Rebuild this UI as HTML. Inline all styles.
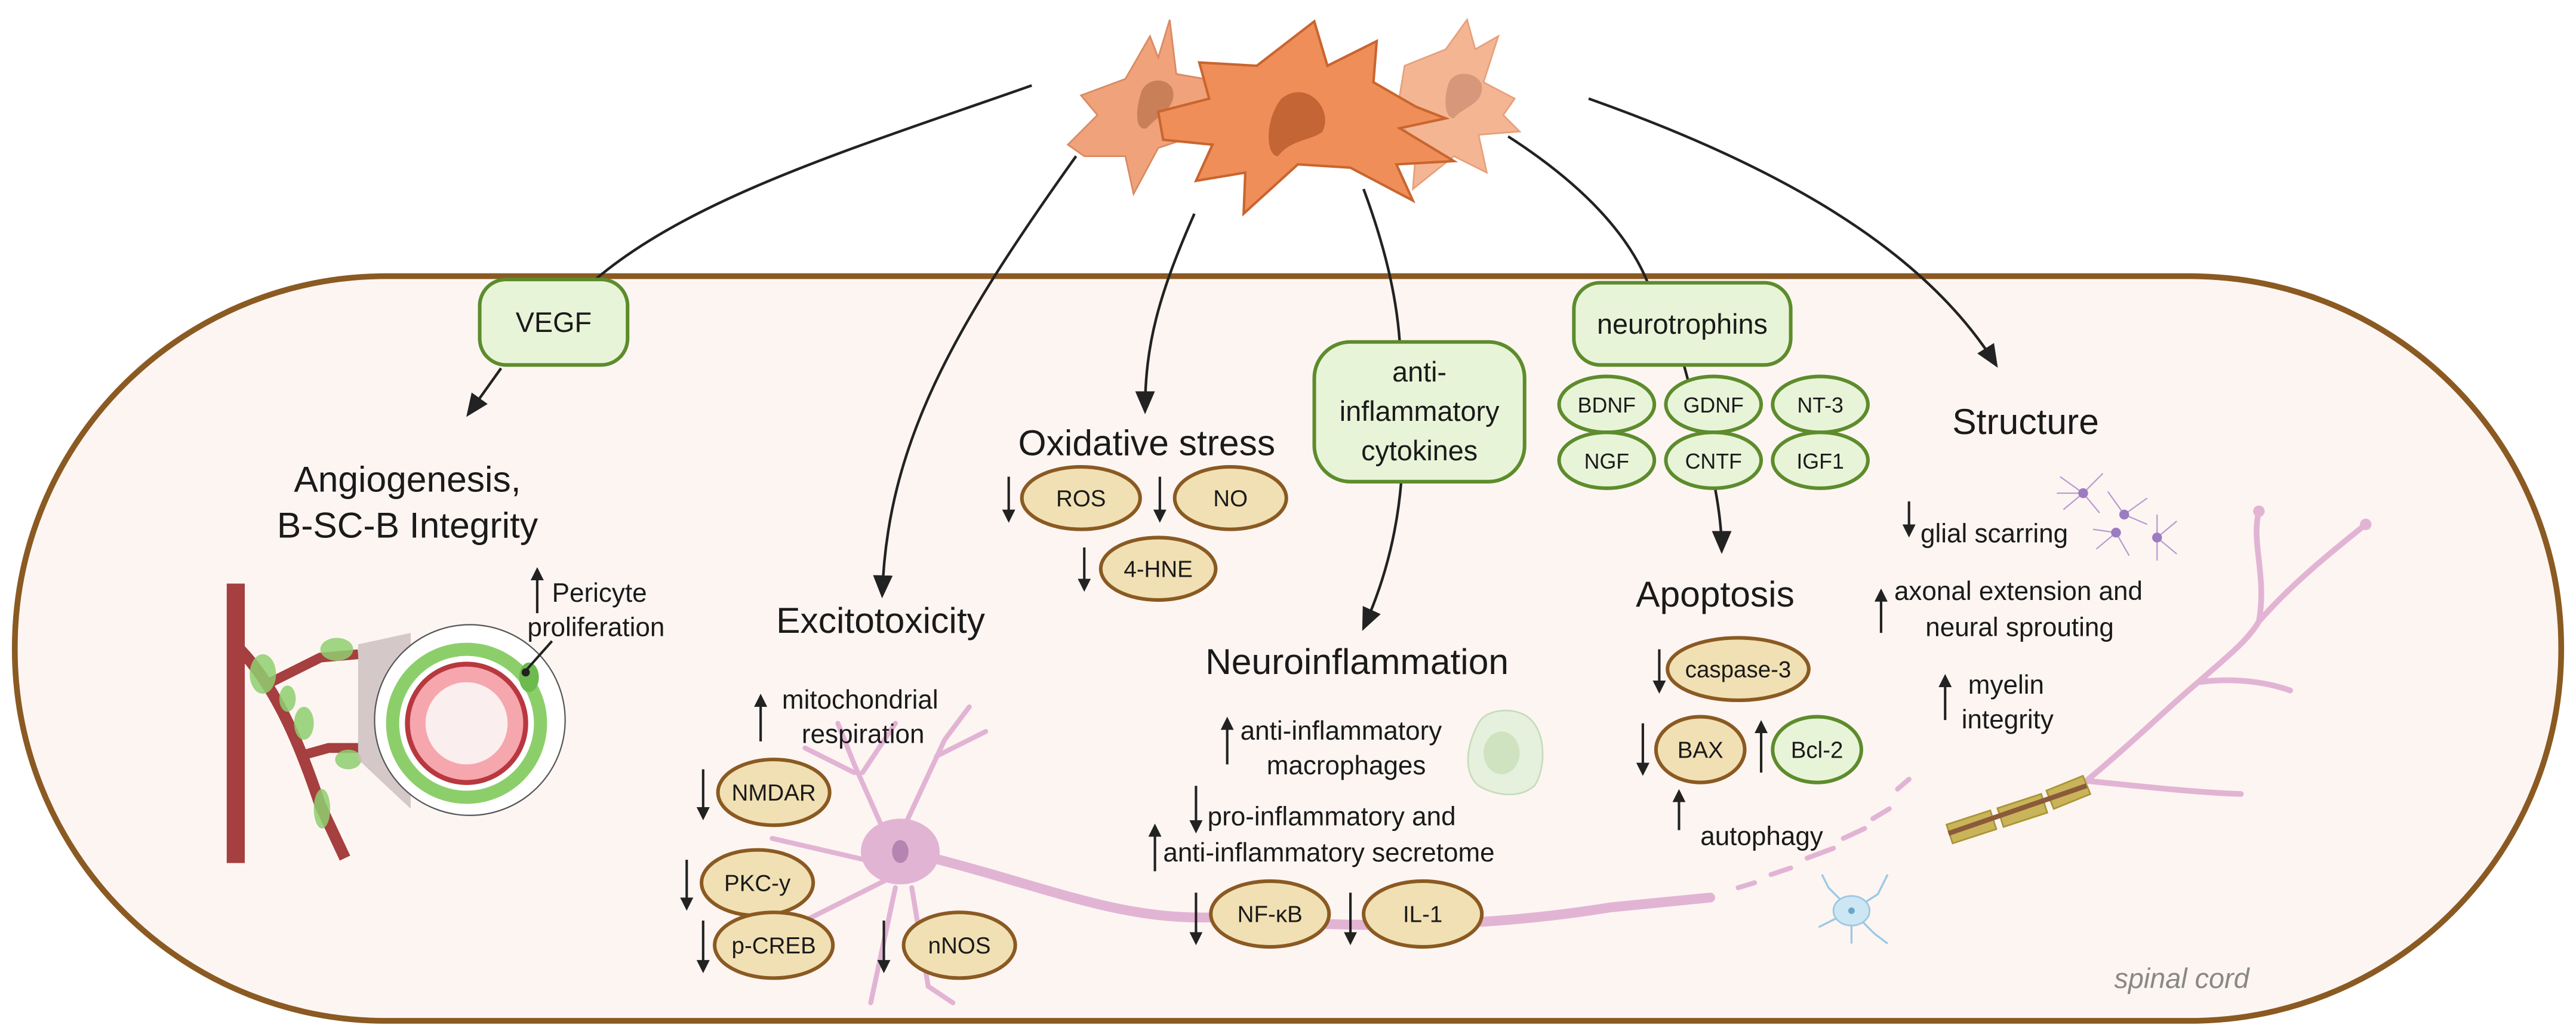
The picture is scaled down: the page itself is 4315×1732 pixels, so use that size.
<!DOCTYPE html>
<html><head><meta charset="utf-8"><style>
html,body{margin:0;padding:0;background:#fff}
svg{display:block}
text{font-family:"Liberation Sans",sans-serif;fill:#1a1a1a}
</style></head><body>
<svg width="4315" height="1732" viewBox="0 0 1568 629" preserveAspectRatio="none" xmlns="http://www.w3.org/2000/svg">
<defs>
<marker id="ah" markerWidth="8" markerHeight="8" refX="6" refY="4" orient="auto" markerUnits="userSpaceOnUse"><path d="M0,0 L8,4 L0,8 Z" fill="#222"/></marker>
<marker id="bh" markerWidth="14" markerHeight="14" refX="12" refY="7" orient="auto" markerUnits="userSpaceOnUse"><path d="M0,1 L14,7 L0,13 Z" fill="#222"/></marker>
</defs>
<rect width="1568" height="629" fill="#fff"/>
<rect x="9" y="168" width="1550" height="453" rx="226" ry="226" fill="#fdf5f2" stroke="#8a5a22" stroke-width="3.5"/>

<g fill="none" stroke="#222" stroke-width="1.6">
<path d="M628,52 C520,90 420,120 360,172"/>
<path d="M305,224 L285,252" marker-end="url(#bh)"/>
<path d="M655,95 C580,200 540,270 537,362" marker-end="url(#bh)"/>
<path d="M727,130 C705,180 697,210 697,250" marker-end="url(#bh)"/>
<path d="M830,115 C843,150 850,180 852,208"/>
<path d="M853,292 C850,330 840,360 830,382" marker-end="url(#bh)"/>
<path d="M918,83 C960,110 990,140 1003,172"/>
<path d="M1025,222 C1035,260 1048,300 1048,335" marker-end="url(#bh)"/>
<path d="M967,60 C1080,100 1170,150 1215,222" marker-end="url(#bh)"/>
</g>

<path d="M650,88 L668,70 L658,58 L685,48 L700,22 L705,35 L712,12 L716,45 L745,50 L720,85 L705,90 L690,118 L685,95 L660,95 Z" fill="#f0a27a" stroke="#d98a63" stroke-width="1"/>
<path d="M695,55 C690,70 692,80 698,78 C705,70 716,66 714,55 C712,48 700,46 695,55Z" fill="#c98058"/>
<path d="M855,40 L880,30 L893,12 L898,30 L912,22 L903,50 L922,60 L915,70 L925,80 L900,82 L905,105 L885,95 L860,115 L862,90 L850,70 Z" fill="#f4b592" stroke="#e7a07b" stroke-width="1"/>
<path d="M882,50 C878,62 880,72 885,72 C890,65 903,64 902,52 C900,44 886,42 882,50Z" fill="#d6977a"/>
<path d="M705,68 L736,60 L730,38 L765,40 L800,13 L808,40 L838,25 L836,50 L862,65 L880,72 L852,78 L885,98 L850,100 L860,122 L822,102 L790,100 L757,130 L758,105 L728,110 L738,88 L708,85 Z" fill="#ef8e58" stroke="#c9652f" stroke-width="1.5"/>
<path d="M780,60 C770,72 770,95 778,95 C785,85 800,85 805,80 C812,66 795,48 780,60Z" fill="#c36534"/>

<g fill="#e8f4d8" stroke="#5d8c2c" stroke-width="2.2">
<rect x="292" y="170" width="90" height="52" rx="16"/>
<rect x="958" y="172" width="132" height="50" rx="16"/>
<rect x="800" y="208" width="128" height="85" rx="22"/>
<ellipse cx="978" cy="246" rx="29" ry="17"/>
<ellipse cx="1043" cy="246" rx="29" ry="17"/>
<ellipse cx="1108" cy="246" rx="29" ry="17"/>
<ellipse cx="978" cy="280" rx="29" ry="17"/>
<ellipse cx="1043" cy="280" rx="29" ry="17"/>
<ellipse cx="1108" cy="280" rx="29" ry="17"/>
<ellipse cx="1106" cy="456" rx="27" ry="20"/>
</g>
<g font-size="17" text-anchor="middle">
<text x="337" y="202">VEGF</text>
<text x="1024" y="203">neurotrophins</text>
<text x="864" y="232">anti-</text>
<text x="864" y="256">inflammatory</text>
<text x="864" y="280">cytokines</text>
</g>
<g font-size="13" text-anchor="middle">
<text x="978" y="251">BDNF</text><text x="1043" y="251">GDNF</text><text x="1108" y="251">NT-3</text>
<text x="978" y="285">NGF</text><text x="1043" y="285">CNTF</text><text x="1108" y="285">IGF1</text>
<text x="1106" y="461" font-size="14">Bcl-2</text>
</g>

<g font-size="22" text-anchor="middle">
<text x="248" y="299">Angiogenesis,</text>
<text x="248" y="327">B-SC-B Integrity</text>
<text x="698" y="277">Oxidative stress</text>
<text x="536" y="385">Excitotoxicity</text>
<text x="826" y="410">Neuroinflammation</text>
<text x="1044" y="369">Apoptosis</text>
<text x="1233" y="264">Structure</text>
</g>

<!-- neuron -->
<g stroke="#e2b4d4" fill="none" stroke-linecap="round">
<path d="M560,520 C640,540 680,560 740,558 C820,565 900,565 980,552 L1041,546" stroke-width="6"/>
<path d="M540,510 L520,465 L510,440 M525,470 L545,440 M548,508 L575,450 L590,430 M570,460 L600,445 M535,525 L470,510 M540,535 L480,565 L455,585 M545,540 L530,610 M555,540 L565,600 L580,610 M520,470 L490,455" stroke-width="3"/>
<path d="M1270,475 C1300,450 1320,430 1338,415 C1355,400 1368,390 1375,378 C1380,350 1370,330 1375,311 M1375,378 C1395,355 1420,335 1440,319 M1338,415 C1360,412 1380,415 1394,420 M1270,475 C1300,478 1335,482 1364,483" stroke-width="3.5"/>
</g>
<circle cx="1375" cy="311" r="3.5" fill="#e2b4d4"/><circle cx="1440" cy="319" r="3.5" fill="#e2b4d4"/>
<ellipse cx="548" cy="518" rx="24" ry="20" fill="#e2b4d4"/>
<ellipse cx="548" cy="518" rx="5" ry="7" fill="#b684b0"/>
<g stroke="#e2b4d4" stroke-width="3" stroke-linecap="round">
<line x1="1058" y1="540" x2="1068" y2="537"/><line x1="1078" y1="532" x2="1090" y2="528"/><line x1="1100" y1="522" x2="1116" y2="516"/><line x1="1122" y1="510" x2="1135" y2="504"/><line x1="1140" y1="498" x2="1150" y2="492"/><line x1="1155" y1="480" x2="1162" y2="474"/>
</g>
<g fill="#c9b45a" stroke="#a89535" stroke-width="1">
<rect x="1186" y="497" width="28" height="12" transform="rotate(-18 1200 503)"/>
<rect x="1217" y="487" width="28" height="12" transform="rotate(-18 1231 493)"/>
<rect x="1247" y="476" width="24" height="12" transform="rotate(-22 1259 482)"/>
</g>
<g stroke="#8a5a3a" stroke-width="3"><line x1="1186" y1="507" x2="1270" y2="478"/></g>
<!-- glial cells -->
<g stroke="#b79ad0" stroke-width="0.8" fill="none">
<path d="M1268,300 l-14,-10 M1268,300 l12,-12 M1268,300 l-12,10 M1268,300 l10,12 M1268,300 l-16,0 M1293,313 l-10,-14 M1293,313 l14,-10 M1293,313 l14,6 M1288,324 l-12,10 M1288,324 l8,14 M1288,324 l-14,-2 M1313,327 l12,-10 M1313,327 l12,10 M1313,327 l0,14 M1313,327 l0,-14"/>
</g>
<circle cx="1268" cy="300" r="3" fill="#9c7cc0"/><circle cx="1293" cy="313" r="3" fill="#9c7cc0"/><circle cx="1288" cy="324" r="3" fill="#9c7cc0"/><circle cx="1313" cy="327" r="3" fill="#9c7cc0"/>
<g stroke="#9cc8e2" stroke-width="1.2" fill="none"><path d="M1127,554 l-14,-14 l-4,-8 M1127,554 l16,-10 l6,-12 M1127,554 l-20,10 M1127,554 l14,14 l8,6 M1127,554 l0,20"/></g>
<ellipse cx="1127" cy="554" rx="11" ry="9" fill="#cde6f3" stroke="#9cc8e2"/>
<circle cx="1127" cy="554" r="2" fill="#6aa7c7"/>
<!-- macrophage -->
<path d="M900,440 C905,430 925,430 932,438 C942,448 940,470 934,478 C925,486 910,484 900,478 C890,470 893,452 900,440Z" fill="#e6f1dd" stroke="#c8dcbc"/>
<ellipse cx="914" cy="458" rx="11" ry="13" fill="#cfe3c1"/>

<!-- vessel -->
<rect x="138" y="355" width="11" height="170" fill="#a63f3f"/>
<path d="M146,395 C170,420 185,460 195,490 L210,522" stroke="#a63f3f" stroke-width="7" fill="none"/>
<path d="M165,415 L195,400 L218,398 M182,460 L200,455 L218,455" stroke="#a63f3f" stroke-width="6" fill="none"/>
<g fill="#8fcf70" opacity="0.85"><ellipse cx="160" cy="410" rx="8" ry="12"/><ellipse cx="205" cy="395" rx="10" ry="7"/><ellipse cx="185" cy="440" rx="6" ry="10"/><ellipse cx="212" cy="462" rx="8" ry="6"/><ellipse cx="196" cy="492" rx="5" ry="12"/><ellipse cx="175" cy="425" rx="5" ry="8"/></g>
<path d="M218,392 L250,385 L250,492 L218,462 Z" fill="#c9bdbd" opacity="0.8"/>
<circle cx="286" cy="438" r="58" fill="#fff" stroke="#555" stroke-width="0.8"/>
<circle cx="284" cy="440" r="45" fill="none" stroke="#8ccf6a" stroke-width="8"/>
<circle cx="284" cy="440" r="36" fill="#f6a6ad" stroke="#b8383f" stroke-width="3"/>
<circle cx="284" cy="440" r="25" fill="#fbeeee"/>
<ellipse cx="322" cy="412" rx="6" ry="9" fill="#6dbb4f"/>
<line x1="320" y1="408" x2="336" y2="390" stroke="#222" stroke-width="1.5"/><circle cx="320" cy="409" r="2.5" fill="#222"/>

<g fill="#f1e0b3" stroke="#8a5a22" stroke-width="2.2">
<ellipse cx="658" cy="303" rx="36" ry="19"/><ellipse cx="749" cy="303" rx="34" ry="19"/><ellipse cx="705" cy="346" rx="35" ry="19"/>
<ellipse cx="1058" cy="407" rx="43" ry="19"/><ellipse cx="1035" cy="456" rx="27" ry="20"/>
<ellipse cx="471" cy="482" rx="34" ry="20"/><ellipse cx="461" cy="537" rx="34" ry="20"/><ellipse cx="471" cy="575" rx="36" ry="20"/><ellipse cx="584" cy="575" rx="34" ry="20"/>
<ellipse cx="773" cy="556" rx="36" ry="20"/><ellipse cx="866" cy="556" rx="36" ry="20"/>
</g>
<g font-size="14" text-anchor="middle">
<text x="658" y="308">ROS</text><text x="749" y="308">NO</text><text x="705" y="351">4-HNE</text>
<text x="1058" y="412">caspase-3</text><text x="1035" y="461">BAX</text>
<text x="471" y="487">NMDAR</text><text x="461" y="542">PKC-y</text><text x="471" y="580">p-CREB</text><text x="584" y="580">nNOS</text>
<text x="773" y="561">NF-κB</text><text x="866" y="561">IL-1</text>
</g>

<g stroke="#222" stroke-width="1.5" fill="none">
<path d="M614,290 V316" marker-end="url(#ah)"/><path d="M706,290 V316" marker-end="url(#ah)"/><path d="M660,333 V358" marker-end="url(#ah)"/>
<path d="M428,468 V497" marker-end="url(#ah)"/><path d="M418,523 V552" marker-end="url(#ah)"/><path d="M428,560 V590" marker-end="url(#ah)"/><path d="M538,560 V590" marker-end="url(#ah)"/>
<path d="M728,543 V573" marker-end="url(#ah)"/><path d="M822,543 V573" marker-end="url(#ah)"/>
<path d="M1010,395 V420" marker-end="url(#ah)"/><path d="M1000,440 V470" marker-end="url(#ah)"/><path d="M1072,470 V440" marker-end="url(#ah)"/>
<path d="M1022,505 V482" marker-end="url(#ah)"/>
<path d="M327,373 V347" marker-end="url(#ah)"/>
<path d="M463,451 V424" marker-end="url(#ah)"/>
<path d="M747,465 V438" marker-end="url(#ah)"/>
<path d="M728,478 V505" marker-end="url(#ah)"/>
<path d="M703,530 V503" marker-end="url(#ah)"/>
<path d="M1162,305 V325" marker-end="url(#ah)"/>
<path d="M1145,385 V360" marker-end="url(#ah)"/>
<path d="M1184,438 V412" marker-end="url(#ah)"/>
</g>

<g font-size="16">
<text x="336" y="366">Pericyte</text>
<text x="321" y="387">proliferation</text>
<text x="476" y="431">mitochondrial</text>
<text x="488" y="452">respiration</text>
<text x="755" y="450">anti-inflammatory</text>
<text x="771" y="471">macrophages</text>
<text x="735" y="502">pro-inflammatory and</text>
<text x="708" y="524">anti-inflammatory secretome</text>
<text x="1035" y="514">autophagy</text>
<text x="1169" y="330">glial scarring</text>
<text x="1153" y="365">axonal extension and</text>
<text x="1172" y="387">neural sprouting</text>
<text x="1198" y="422">myelin</text>
<text x="1194" y="443">integrity</text>
</g>
<text x="1328" y="601" font-size="17" font-style="italic" text-anchor="middle" style="fill:#888">spinal cord</text>
</svg>
</body></html>
